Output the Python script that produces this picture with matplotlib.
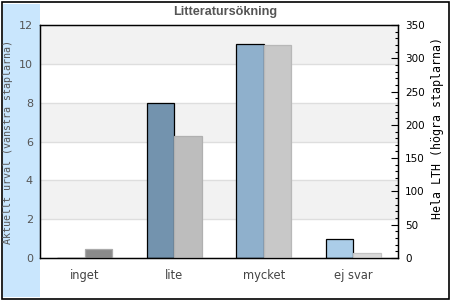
import numpy as np
import matplotlib
matplotlib.use('Agg')
import matplotlib.pyplot as plt
from matplotlib.patches import Rectangle
from matplotlib.ticker import MultipleLocator

# data
kategorier = ['inget', 'lite', 'mycket', 'ej svar']
urval = [0, 8, 11, 1]            # vänstra staplarna
hela_lth = [14, 183, 320, 7]     # högra staplarna

farger_v = ['#7393ae', '#7393ae', '#8fb0cc', '#abcde8']
farger_h = ['#8a8a8a', '#bdbdbd', '#c8c8c8', '#d9d9d9']
kant_h = ['#aaaaaa', '#b0b0b0', '#b8b8b8', '#c4c4c4']

fig = plt.figure(figsize=(4.5, 3), dpi=100)
W, H = 450, 300

# ram och blå remsa
fig.patches.append(Rectangle((1.5 / W, 1.5 / H), 447 / W, 297 / H, transform=fig.transFigure,
                             fill=False, edgecolor='black', linewidth=1.2, zorder=-2))
fig.patches.append(Rectangle((3 / W, 3.5 / H), 37 / W, 293 / H, transform=fig.transFigure,
                             facecolor='#c9e6fd', edgecolor='none', zorder=-1))

ax = fig.add_axes([40 / W, 42 / H, 358 / W, 233 / H])
ax2 = ax.twinx()

x = np.arange(len(kategorier))
bw = 0.305

# bakgrundsband
for lo in range(0, 12, 2):
    if (lo // 2) % 2 == 1:
        ax.axhspan(lo, lo + 2, color='#f2f2f2', zorder=0, linewidth=0)
for g in range(2, 12, 2):
    ax.axhline(g, color='#dedede', linewidth=1, zorder=0.5)

ax.bar(x - bw / 2, urval, width=bw, color=farger_v, edgecolor='black', linewidth=0.9, zorder=2)
ax2.bar(x + bw / 2, hela_lth, width=bw, color=farger_h, edgecolor=kant_h, linewidth=0.9, zorder=2)

ax.set_xlim(-0.5, 3.5)
ax.set_ylim(0, 12)
ax2.set_ylim(0, 350)

ax.set_xticks(x)
ax.set_xticklabels(kategorier, fontsize=8.3, color='#444444')
ax.tick_params(axis='x', length=0, pad=8)
ax.set_yticks(range(0, 13, 2))
ax.tick_params(axis='y', length=0, pad=5, labelsize=8, labelcolor='#555555')

ax2.yaxis.set_major_locator(MultipleLocator(50))
ax2.yaxis.set_minor_locator(MultipleLocator(10))
ax2.tick_params(axis='y', which='major', direction='in', length=5, width=0.8, pad=5, labelsize=7.5)
ax2.tick_params(axis='y', which='minor', direction='in', length=2.5, width=0.8)

for a in (ax, ax2):
    for s in a.spines.values():
        s.set_linewidth(0.9)
        s.set_color('black')

# axeltitlar
fig.text(8.5 / W, 1 - 142.5 / H, 'Aktuellt urval (vänstra staplarna)', rotation=90,
         ha='center', va='center', family='DejaVu Sans Mono', fontsize=7.2, color='#555555')
fig.text(437 / W, 1 - 128 / H, 'Hela LTH (högra staplarna)', rotation=90,
         ha='center', va='center', family='DejaVu Sans Mono', fontsize=8.4, color='black')

fig.text(0.5, 1 - 12.5 / H, 'Litteratursökning', ha='center', va='center',
         family='Liberation Sans', weight='bold', fontsize=9.1, color='#555555')

fig.savefig('out.png', dpi=100)
